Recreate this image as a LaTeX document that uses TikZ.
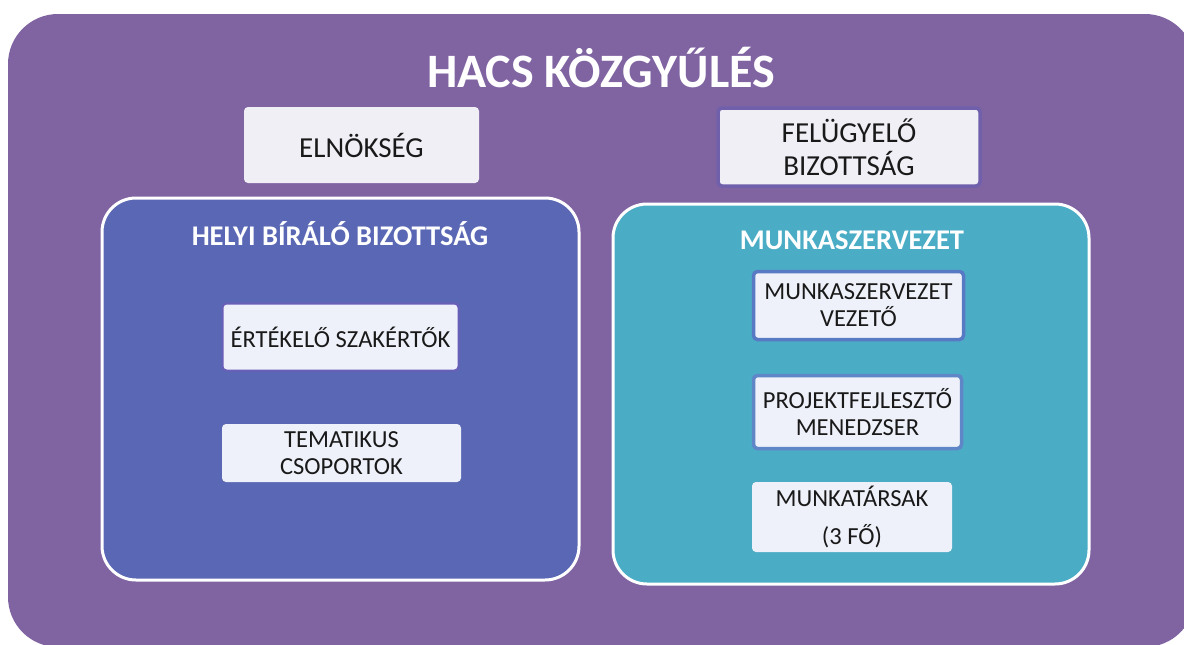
\documentclass[tikz,border=0pt]{standalone}
\usepackage{fontspec}
\setmainfont{Carlito}
\begin{document}
\begin{tikzpicture}[x=1pt,y=-1pt,
  outerbg/.style={fill={rgb,255:red,128;green,100;blue,162}},
  grp/.style={draw=white,line width=3pt,rounded corners=34pt},
  lbox/.style={fill={rgb,255:red,240;green,239;blue,246},rounded corners=4pt,align=center,font=\fontsize{29}{33}\selectfont,text={rgb,255:red,25;green,25;blue,25}},
  sbox/.style={fill={rgb,255:red,238;green,241;blue,249},rounded corners=4pt,align=center,font=\fontsize{24.5}{27}\selectfont,text={rgb,255:red,25;green,25;blue,25}},
  ttl/.style={text=white,font=\bfseries\fontsize{28.5}{32}\selectfont}
]
\useasboundingbox (0,0) rectangle (1184,645);
\fill[white] (0,0) rectangle (1184,645);
\begin{scope}
\clip (0,0) rectangle (1184,645);
\path[outerbg,rounded corners=50pt] (8,14) rectangle (1195,647);
\end{scope}
\node[text=white,font=\bfseries\fontsize{48}{52}\selectfont] (title) at (601,68) {HACS KÖZGYŰLÉS};

\node[lbox,minimum width=235pt,minimum height=76pt] (eln) at (361.5,145) {ELNÖKSÉG};
\node[lbox,minimum width=262pt,minimum height=78pt,draw={rgb,255:red,112;green,96;blue,172},line width=3.5pt] (fel) at (849,147) {FELÜGYELŐ\\BIZOTTSÁG};

\path[grp,fill={rgb,255:red,90;green,103;blue,180}] (102,198) rectangle (579,580);
\node[ttl] (hbb) at (340,234) {HELYI BÍRÁLÓ BIZOTTSÁG};
\node[sbox,minimum width=236pt,minimum height=67pt,draw={rgb,255:red,105;green,95;blue,185},line width=2pt] (ert) at (340.5,337) {ÉRTÉKELŐ SZAKÉRTŐK};
\node[sbox,minimum width=239pt,minimum height=58pt] (tem) at (341.5,453) {TEMATIKUS\\CSOPORTOK};

\path[grp,fill={rgb,255:red,75;green,172;blue,198}] (613,204) rectangle (1089,584);
\node[ttl] (msz) at (852,240) {MUNKASZERVEZET};
\node[sbox,minimum width=210pt,minimum height=68pt,draw={rgb,255:red,88;green,122;blue,196},line width=3.5pt] (vez) at (858.5,305.5) {MUNKASZERVEZET\\VEZETŐ};
\node[sbox,minimum width=208pt,minimum height=73pt,draw={rgb,255:red,95;green,135;blue,200},line width=3.5pt] (pfm) at (857.5,412) {PROJEKTFEJLESZTŐ\\MENEDZSER};
\node[sbox,minimum width=200pt,minimum height=70pt,font=\fontsize{24.5}{38}\selectfont] (mt) at (852,517) {MUNKATÁRSAK\\(3 FŐ)};
\end{tikzpicture}
\end{document}
